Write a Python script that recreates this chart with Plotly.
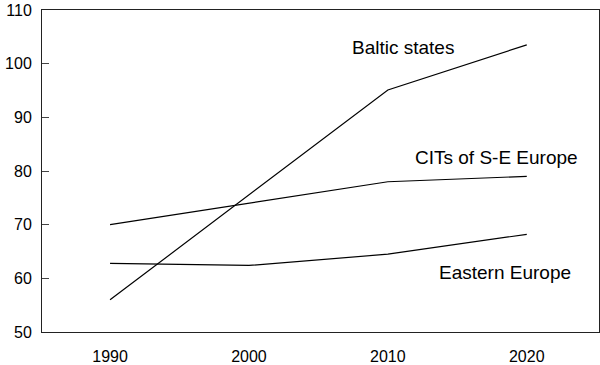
import plotly.graph_objects as go

years = [1990, 2000, 2010, 2020]
baltic_states = [56.0, 75.5, 95.1, 103.5]
cits_se_europe = [70.0, 74.0, 78.0, 79.0]
eastern_europe = [62.8, 62.4, 64.5, 68.2]

series = [
    ("Baltic states", baltic_states, 2011.1, 103.1),
    ("CITs of S-E Europe", cits_se_europe, 2017.8, 82.6),
    ("Eastern Europe", eastern_europe, 2018.4, 61.0),
]

FONT = "Liberation Sans, Arial, Helvetica, sans-serif"

fig = go.Figure()
for name, vals, lx, ly in series:
    fig.add_trace(go.Scatter(x=years, y=vals, mode="lines", name=name,
                             line=dict(color="black", width=1.2),
                             showlegend=False, hoverinfo="skip"))
    fig.add_annotation(x=lx, y=ly, text=name, showarrow=False,
                       font=dict(family=FONT, size=19, color="black"))

fig.update_layout(
    width=600, height=365,
    margin=dict(l=42, r=1, t=10, b=33),
    paper_bgcolor="white", plot_bgcolor="white",
    font=dict(family=FONT, size=16, color="black"),
)
fig.update_xaxes(range=[1985.1, 2025.2], tickvals=years,
                 ticktext=[str(y) for y in years], ticks="",
                 showgrid=False, zeroline=False, showline=True,
                 linecolor="#222", linewidth=1, mirror=True,
                 ticklabelstandoff=10)
fig.update_yaxes(range=[50, 110], dtick=10, tick0=50, ticks="inside",
                 ticklen=7, tickcolor="#444", showgrid=False,
                 zeroline=False, showline=True, linecolor="#222",
                 linewidth=1, mirror=True, ticklabelstandoff=6)

fig.write_html("out.html",
               config={"displayModeBar": False},
               post_script="document.body.style.margin='0';"
                           "document.body.style.overflow='hidden';")
